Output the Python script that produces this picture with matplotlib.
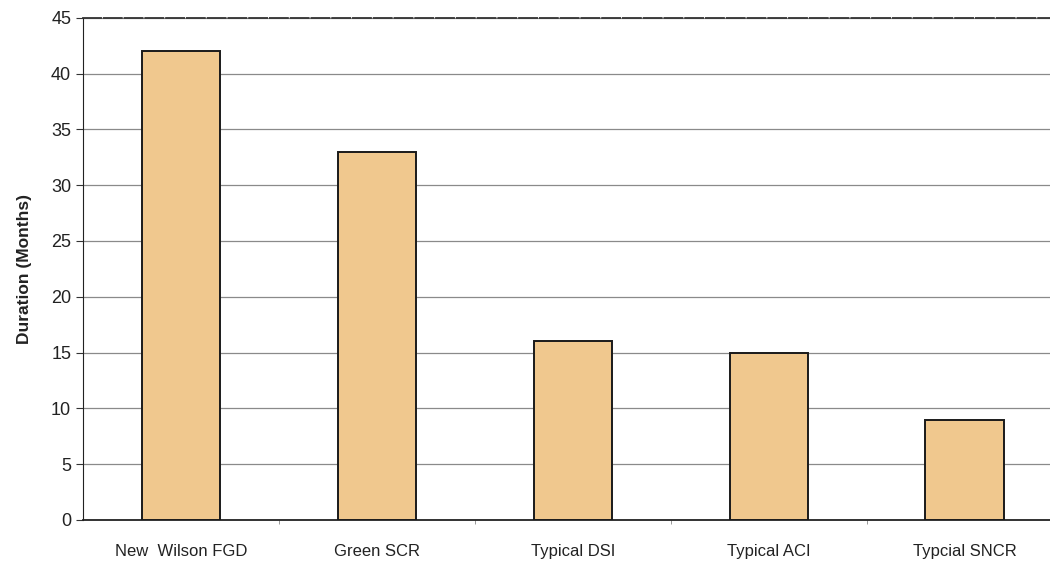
import numpy as np
import matplotlib.pyplot as plt

categories = ["New  Wilson FGD", "Green SCR", "Typical DSI", "Typical ACI", "Typcial SNCR"]
durations = [42, 33, 16, 15, 9]

plt.rcParams["font.family"] = ["Liberation Sans", "DejaVu Sans"]

fig = plt.figure(figsize=(10.5, 5.63), dpi=100)
ax = fig.add_axes([0.079, 0.0764, 0.933, 0.892])

x = np.arange(len(categories))
ax.bar(x, durations, width=0.4, color="#f0c88e", edgecolor="#1a1a1a", linewidth=1.4, zorder=3)

ax.set_xlim(-0.5, len(categories) - 0.5)
ax.set_ylim(0, 45)
ax.set_yticks(range(0, 46, 5))
ax.yaxis.grid(True, color="#8a8a8a", linewidth=0.9, zorder=0)

ax.set_xticks(x)
ax.set_xticklabels(categories, fontsize=12, color="#222222")
ax.tick_params(axis="x", length=0, pad=17)
ax.set_xticks(np.arange(0.5, len(categories) - 0.5, 1), minor=True)
ax.tick_params(axis="x", which="minor", length=3, color="#888888")
ax.tick_params(axis="y", labelsize=13, length=5, color="#333333", labelcolor="#222222")

ax.spines["right"].set_visible(False)
ax.spines["top"].set_color("#333333")
ax.spines["top"].set_linewidth(1.3)
ax.spines["top"].set_linestyle((0, (10, 1.5)))
ax.spines["left"].set_color("#222222")
ax.spines["bottom"].set_color("#222222")
ax.spines["bottom"].set_linewidth(1.3)

ax.set_ylabel("Duration (Months)", fontsize=12.5, fontweight="bold", labelpad=14, color="#222222")

fig.savefig("out.png", dpi=100)
